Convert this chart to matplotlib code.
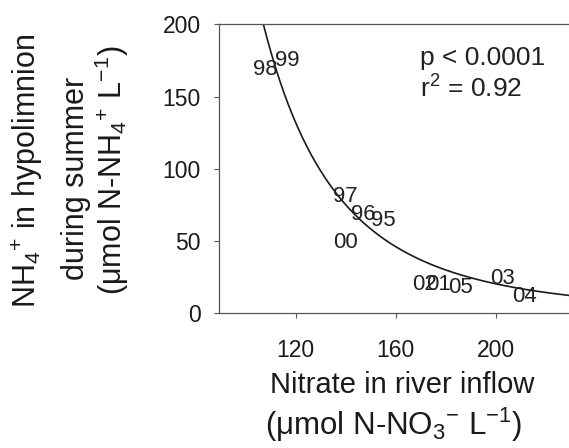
import numpy as np
import matplotlib
matplotlib.use("Agg")
import matplotlib.pyplot as plt

plt.rcParams.update({"font.family": ["Liberation Sans", "DejaVu Sans"],
                     "mathtext.fontset": "custom",
                     "mathtext.rm": "Liberation Sans",
                     "mathtext.it": "Liberation Sans:italic",
                     "mathtext.bf": "Liberation Sans:bold"})

# year labels at their (nitrate, NH4+) positions
years = ["98", "99", "97", "96", "95", "00", "02", "01", "05", "03", "04"]
nitrate = [108.0, 116.7, 139.9, 147.2, 155.2, 139.9, 171.4, 177.1, 186.0, 202.6, 211.6]
ammonium = [169.0, 175.0, 80.5, 68.7, 64.0, 49.0, 20.0, 20.0, 17.8, 24.0, 11.3]

# power-law fit y = a * x^-b
fit_a = np.exp(22.356)
fit_b = 3.65

x_ticks = [120, 160, 200]
y_ticks = [0, 50, 100, 150, 200]

fig = plt.figure(figsize=(5.69, 4.48), dpi=100)
ax = fig.add_axes([219.3 / 569, 1 - 313.3 / 448, 1 - 219.3 / 569, (313.3 - 24.3) / 448])

xs = np.linspace(95, 235, 300)
ax.plot(xs, fit_a * xs ** (-fit_b), color="#1a1a1a", lw=1.2)

for lab, x, y in zip(years, nitrate, ammonium):
    ax.text(x, y, lab, ha="center", va="center", fontsize=16, color="#222222")

ax.text(0.574, 0.859, "p < 0.0001", transform=ax.transAxes, fontsize=19,
        ha="left", va="baseline", color="#222222")
ax.text(0.574, 0.748, "r$^2$ = 0.92", transform=ax.transAxes, fontsize=19,
        ha="left", va="baseline", color="#222222")

ax.set_xlim(89.4, 229.4)
ax.set_ylim(0, 200)
ax.set_xticks(x_ticks)
ax.set_yticks(y_ticks)
ax.tick_params(direction="out", length=3.5, width=0.8, labelsize=16.5,
               colors="#555555", labelcolor="#1a1a1a", pad=10)
ax.tick_params(axis="x", pad=15)
for s in ["left", "bottom", "top"]:
    ax.spines[s].set_color("#555555")
    ax.spines[s].set_linewidth(0.9)
ax.spines["right"].set_visible(False)

fig.text(402, 448 - 385, "Nitrate in river inflow", fontsize=21, ha="center",
         va="center", color="#1a1a1a", transform=None)
fig.text(394, 448 - 425, "(μmol N-NO$_3$$^{-}$ L$^{-1}$)", fontsize=22.5,
         ha="center", va="center", color="#1a1a1a", transform=None)

ylines = ["NH$_4$$^{+}$ in hypolimnion", "during summer",
          "(μmol N-NH$_4$$^{+}$ L$^{-1}$)"]
for xp, yp, s in zip([27, 76, 112], [171, 178, 170], ylines):
    fig.text(xp, 448 - yp, s, fontsize=22, rotation=90, ha="center",
             va="center", color="#1a1a1a", transform=None)

fig.savefig("out.png", dpi=100)
